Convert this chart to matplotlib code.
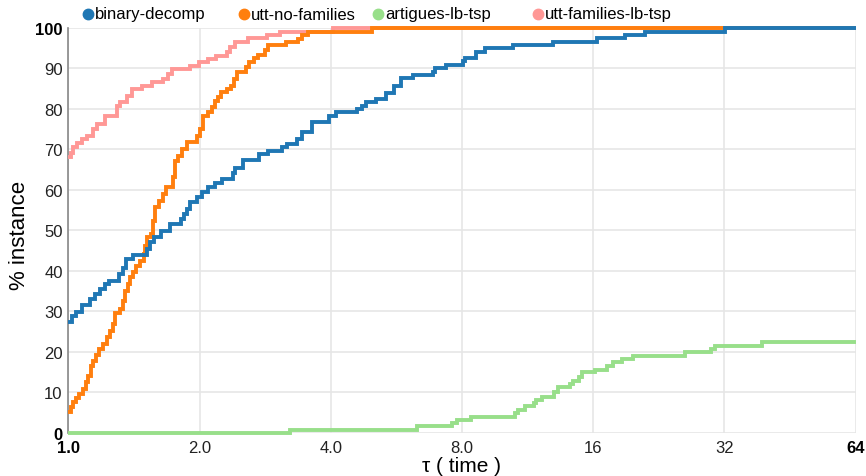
import matplotlib
matplotlib.use("Agg")
import matplotlib.pyplot as plt
from matplotlib.lines import Line2D

plt.rcParams["font.family"] = ["Liberation Sans", "DejaVu Sans"]

# performance profile data: tau breakpoints and % of instances solved
blue_tau = [1.0, 1.018, 1.041, 1.073, 1.121, 1.151, 1.182, 1.214, 1.242, 1.309,
            1.332, 1.356, 1.405, 1.518, 1.540, 1.573, 1.629, 1.711, 1.810, 1.843,
            1.875, 1.902, 1.972, 2.025, 2.096, 2.170, 2.248, 2.389, 2.410, 2.516,
            2.740, 2.87, 3.09, 3.17, 3.34, 3.43, 3.62, 3.97, 4.11, 4.59,
            4.71, 4.82, 5.08, 5.36, 5.60, 5.80, 6.17, 6.86, 6.94, 7.36,
            8.03, 8.13, 8.62, 9.04, 10.5, 12.97, 16.3, 18.9, 21.05, 32.1]
blue_pct = [27.4, 28.9, 29.9, 31.5, 33.0, 34.3, 35.5, 36.7, 37.6, 39.2,
            40.8, 42.9, 43.9, 45.4, 47.0, 48.3, 49.9, 51.6, 52.8, 54.0,
            55.3, 56.9, 58.2, 59.4, 60.6, 61.8, 62.7, 64.1, 65.5, 67.3,
            68.8, 69.6, 70.5, 71.3, 72.5, 74.2, 76.7, 78.3, 79.1, 80.0,
            80.8, 81.6, 82.4, 84.0, 85.7, 87.5, 88.3, 89.2, 90.0, 90.8,
            91.7, 92.5, 94.1, 94.9, 95.8, 96.6, 97.4, 98.2, 99.0, 100]

orange_tau = [1.0, 1.0126, 1.027, 1.041, 1.060, 1.079, 1.098, 1.111, 1.125, 1.141,
              1.158, 1.178, 1.203, 1.229, 1.246, 1.264, 1.280, 1.314, 1.332, 1.348,
              1.373, 1.384, 1.405, 1.429, 1.460, 1.492, 1.499, 1.518, 1.548, 1.567,
              1.584, 1.618, 1.652, 1.675, 1.736, 1.757, 1.788, 1.820, 1.876, 1.972,
              2.007, 2.036, 2.096, 2.140, 2.170, 2.208, 2.236, 2.307, 2.368, 2.401,
              2.444, 2.563, 2.599, 2.663, 2.725, 2.823, 2.873, 3.163, 3.369, 3.431,
              3.55, 4.98]
orange_pct = [5.1, 6.3, 7.5, 8.7, 9.6, 10.8, 12.5, 14.1, 16.6, 17.8,
              19.1, 20.7, 21.9, 23.6, 25.2, 26.8, 29.7, 30.6, 32.6, 35.1,
              36.7, 38.4, 39.6, 41.3, 42.5, 44.2, 46.2, 48.3, 49.1, 52.4,
              55.7, 57.3, 59.0, 60.6, 63.1, 67.2, 68.4, 70.1, 71.7, 73.3,
              75.0, 78.3, 79.1, 80.4, 82.0, 82.8, 84.1, 84.9, 85.7, 87.4,
              89.0, 90.3, 91.5, 92.5, 93.3, 94.4, 95.8, 96.4, 97.3, 98.2,
              99.0, 100]

green_tau = [1.0, 3.23, 6.30, 7.58, 7.81, 8.38, 10.59, 10.78, 11.17, 11.71,
             11.83, 12.2, 13.02, 13.32, 14.16, 14.37, 14.88, 15.07, 16.17, 17.25,
             17.81, 18.61, 19.79, 26.0, 29.9, 30.5, 39.0]
green_pct = [0.0, 0.8, 1.6, 2.4, 3.2, 4.0, 4.8, 5.6, 6.5, 7.3,
             8.1, 8.9, 10.0, 11.3, 12.1, 12.9, 13.7, 14.9, 15.6, 16.6,
             17.4, 18.2, 19.0, 19.9, 20.7, 21.5, 22.3]

pink_tau = [1.0, 1.0126, 1.027, 1.045, 1.073, 1.106, 1.141, 1.161, 1.214, 1.291,
            1.314, 1.361, 1.398, 1.473, 1.553, 1.652, 1.697, 1.727, 1.90, 1.99,
            2.096, 2.185, 2.307, 2.35, 2.41, 2.58, 2.85, 3.06, 4.05]
pink_pct = [68.0, 69.2, 70.5, 71.6, 72.5, 73.3, 75.0, 76.2, 78.3, 80.6,
            81.6, 83.1, 84.9, 85.7, 86.5, 87.4, 88.6, 89.8, 90.6, 91.5,
            92.3, 93.1, 94.0, 95.2, 96.4, 97.4, 98.2, 99.0, 100]

labels = ["binary-decomp", "utt-no-families", "artigues-lb-tsp", "utt-families-lb-tsp"]
colors = ["#1f77b4", "#ff7f0e", "#98df8a", "#ff9896"]
series = [(blue_tau, blue_pct), (orange_tau, orange_pct),
          (green_tau, green_pct), (pink_tau, pink_pct)]

x_ticks = [1, 2, 4, 8, 16, 32, 64]
x_ticklabels = ["1.0", "2.0", "4.0", "8.0", "16", "32", "64"]
y_ticks = list(range(0, 101, 10))

W, H = 866, 477
fig = plt.figure(figsize=(W / 100, H / 100), dpi=100)
ax = fig.add_axes([68.3 / W, 1 - 433.8 / H, (855.5 - 68.3) / W, (433.8 - 28.8) / H])

# blue drawn on top, pink at the bottom
for i, ((tau, pct), c) in enumerate(zip(series, colors)):
    ax.plot(tau + [64], pct + [pct[-1]], drawstyle="steps-post", color=c,
            lw=2.8, zorder=10 - i, clip_on=False,
            solid_capstyle="butt", solid_joinstyle="miter")

ax.set_xscale("log", base=2)
ax.set_xlim(1, 64)
ax.set_ylim(0, 100)
ax.set_xticks(x_ticks)
ax.set_xticklabels(x_ticklabels)
ax.set_yticks(y_ticks)
ax.set_yticklabels([str(v) for v in y_ticks])
ax.minorticks_off()
ax.tick_params(length=0, labelsize=12, colors="#222222")
ax.tick_params(axis="x", pad=5)
ax.tick_params(axis="y", pad=4)
for t in [ax.get_xticklabels()[0], ax.get_xticklabels()[-1],
          ax.get_yticklabels()[0], ax.get_yticklabels()[-1]]:
    t.set_fontweight("bold")
    t.set_color("black")

ax.grid(True, color="#e6e6e6", lw=1.2)
ax.set_axisbelow(True)
for s in ["top", "right", "bottom"]:
    ax.spines[s].set_visible(False)
ax.spines["left"].set_color("#888888")
ax.spines["left"].set_linewidth(1.2)

fig.text(462 / W, 1 - 467 / H, "τ ( time )", fontsize=15, ha="center", va="center")
fig.text(20 / W, 1 - 235 / H, "% instance", fontsize=16, ha="center", va="center",
         rotation=90)

# legend across the top
leg_x = [88, 244, 378, 538]
for x, lab, c in zip(leg_x, labels, colors):
    fig.add_artist(Line2D([x / W], [1 - 15 / H], marker="o", markersize=7.5,
                          color=c, ls="", transform=fig.transFigure))
    fig.text((x + 7) / W, 1 - 15 / H, lab, fontsize=12, va="center", ha="left")

fig.savefig("out.png", dpi=100)
